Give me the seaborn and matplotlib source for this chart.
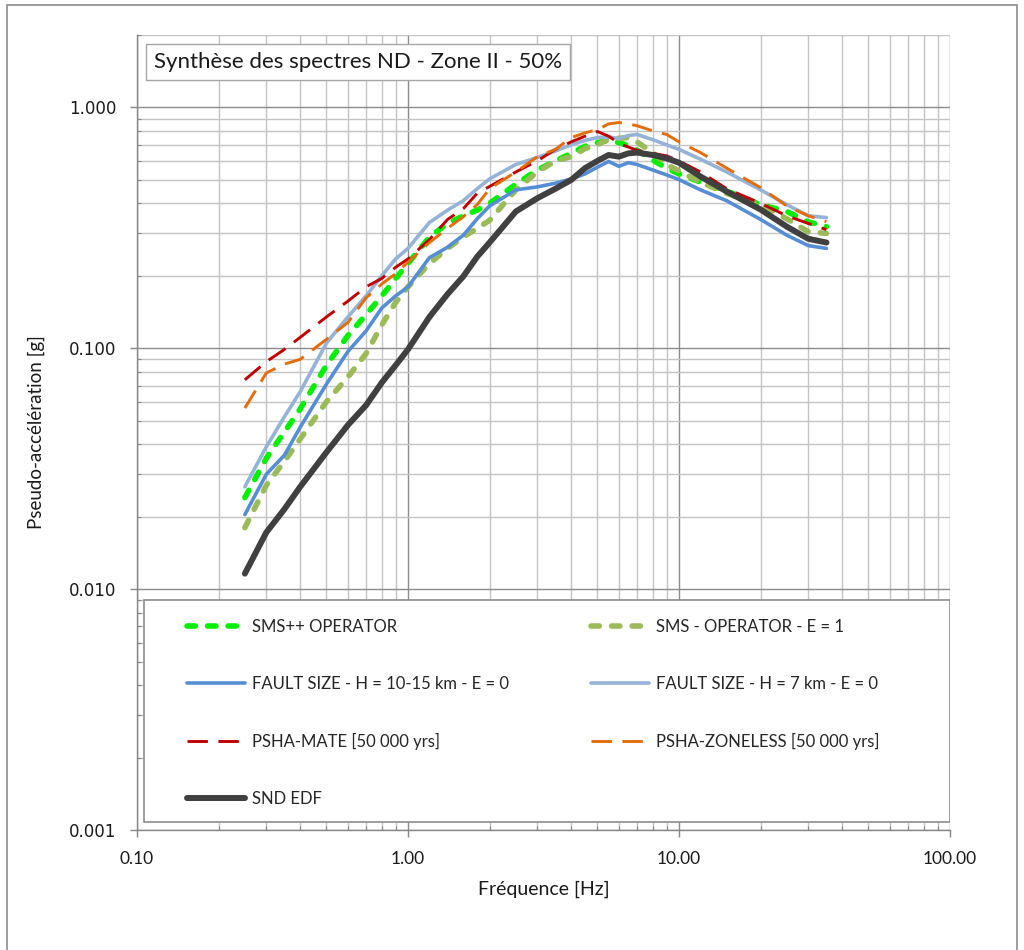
import numpy as np
import matplotlib
matplotlib.use("Agg")
import matplotlib.pyplot as plt
import seaborn as sns
from matplotlib.ticker import LogLocator, FormatStrFormatter, NullFormatter
from matplotlib.patches import Rectangle
from matplotlib.lines import Line2D

# Frequencies [Hz]
freq = [0.25, 0.3, 0.35, 0.4, 0.5, 0.6, 0.7, 0.8, 0.9, 1.0, 1.2, 1.4, 1.6, 1.8,
        2.0, 2.5, 3.0, 3.5, 4.0, 4.5, 5.0, 5.5, 6.0, 6.5, 7.0, 8.0, 9.0, 10,
        12, 15, 20, 25, 30, 35]

# Pseudo-acceleration spectra [g]
sms_pp_operator = [0.024, 0.035, 0.045, 0.056, 0.085, 0.113, 0.138, 0.165, 0.195, 0.225,
                   0.29, 0.33, 0.355, 0.375, 0.40, 0.48, 0.55, 0.60, 0.645, 0.69,
                   0.715, 0.73, 0.715, 0.695, 0.665, 0.605, 0.56, 0.53, 0.49, 0.45,
                   0.395, 0.37, 0.335, 0.32]
sms_operator_e1 = [0.018, 0.027, 0.034, 0.042, 0.060, 0.076, 0.095, 0.125, 0.155, 0.18,
                   0.225, 0.26, 0.29, 0.315, 0.34, 0.455, 0.54, 0.60, 0.625, 0.675,
                   0.70, 0.74, 0.745, 0.75, 0.72, 0.65, 0.58, 0.545, 0.49, 0.44,
                   0.395, 0.345, 0.305, 0.30]
fault_h10_15 = [0.0204, 0.030, 0.036, 0.047, 0.071, 0.097, 0.118, 0.147, 0.165, 0.18,
                0.238, 0.263, 0.295, 0.345, 0.39, 0.455, 0.468, 0.485, 0.505, 0.53,
                0.565, 0.597, 0.57, 0.59, 0.58, 0.55, 0.525, 0.502, 0.455, 0.41,
                0.343, 0.295, 0.267, 0.26]
fault_h7 = [0.0266, 0.039, 0.052, 0.066, 0.105, 0.135, 0.165, 0.20, 0.235, 0.26,
            0.333, 0.375, 0.41, 0.46, 0.505, 0.58, 0.62, 0.66, 0.70, 0.73,
            0.75, 0.755, 0.743, 0.765, 0.773, 0.735, 0.70, 0.67, 0.61, 0.54,
            0.455, 0.395, 0.355, 0.349]
psha_mate = [0.074, 0.088, 0.099, 0.111, 0.135, 0.157, 0.18, 0.195, 0.217, 0.235,
             0.283, 0.343, 0.38, 0.44, 0.47, 0.54, 0.60, 0.67, 0.72, 0.76,
             0.795, 0.76, 0.71, 0.685, 0.665, 0.645, 0.63, 0.60, 0.54, 0.46,
             0.40, 0.355, 0.33, 0.311]
psha_zoneless = [0.0565, 0.079, 0.086, 0.090, 0.109, 0.128, 0.162, 0.185, 0.204, 0.228,
                 0.275, 0.315, 0.352, 0.395, 0.46, 0.54, 0.625, 0.67, 0.75, 0.785,
                 0.81, 0.855, 0.866, 0.855, 0.84, 0.80, 0.773, 0.72, 0.65, 0.56,
                 0.465, 0.39, 0.355, 0.336]
snd_edf = [0.0116, 0.0172, 0.0215, 0.0266, 0.037, 0.048, 0.058, 0.072, 0.085, 0.099,
           0.135, 0.168, 0.199, 0.24, 0.275, 0.37, 0.42, 0.46, 0.50, 0.56,
           0.60, 0.635, 0.625, 0.645, 0.65, 0.635, 0.615, 0.59, 0.517, 0.448,
           0.377, 0.32, 0.285, 0.275]

labels = ["SMS++ OPERATOR", "SMS - OPERATOR - E = 1",
          "FAULT SIZE - H = 10-15 km - E = 0", "FAULT SIZE - H = 7 km - E = 0",
          "PSHA-MATE [50 000 yrs]", "PSHA-ZONELESS [50 000 yrs]", "SND EDF"]
values = [sms_pp_operator, sms_operator_e1, fault_h10_15, fault_h7,
          psha_mate, psha_zoneless, snd_edf]
colors = ["#00F000", "#9BBB59", "#558ED5", "#95B3D7", "#C00000", "#E46C0A", "#404040"]
widths = [4.0, 4.0, 2.6, 2.6, 2.1, 2.1, 4.3]
dashes = [(1.5, 2.2), (1.5, 2.2), None, None, (7, 3.6), (7, 3.6), None]

title = "Synthèse des spectres ND - Zone II - 50%"
xlabel = "Fréquence [Hz]"
ylabel = "Pseudo-accélération [g]"

sns.set_theme(style="white")
plt.rcParams["font.family"] = ["Lato", "DejaVu Sans"]

W, H = 1024, 950
fig = plt.figure(figsize=(W / 100, H / 100), dpi=100)
x0, x1, y0, y1 = 137, 950, 35, 830
ax = fig.add_axes([x0 / W, 1 - y1 / H, (x1 - x0) / W, (y1 - y0) / H])

handles = []
for lab, vals, col, lw, ds in zip(labels, values, colors, widths, dashes):
    kws = dict(color=col, linewidth=lw, solid_capstyle="round", solid_joinstyle="round")
    if ds is not None:
        kws.update(dashes=ds, dash_capstyle="round" if lw > 3 else "butt")
    sns.lineplot(x=freq, y=vals, ax=ax, label=lab, **kws)
    h = Line2D([], [], color=col, linewidth=lw, solid_capstyle="round",
               dash_capstyle="round" if lw > 3 else "butt")
    if ds is not None:
        h.set_dashes(ds)
    handles.append(h)

ax.set_xscale("log")
ax.set_yscale("log")
ax.set_xlim(0.1, 100)
ax.set_ylim(0.001, 2.0)

ax.xaxis.set_major_locator(LogLocator(base=10, numticks=10))
ax.yaxis.set_major_locator(LogLocator(base=10, numticks=10))
ax.xaxis.set_minor_locator(LogLocator(base=10, subs=np.arange(2, 10), numticks=20))
ax.yaxis.set_minor_locator(LogLocator(base=10, subs=np.arange(2, 10), numticks=20))
ax.xaxis.set_major_formatter(FormatStrFormatter("%.2f"))
ax.yaxis.set_major_formatter(FormatStrFormatter("%.3f"))
ax.xaxis.set_minor_formatter(NullFormatter())
ax.yaxis.set_minor_formatter(NullFormatter())

ax.set_axisbelow(True)
ax.grid(which="major", color="#8C8C8C", linewidth=1.0)
ax.grid(which="minor", color="#C4C4C4", linewidth=1.0)

for s in ["top", "right"]:
    ax.spines[s].set_visible(False)
for s in ["left", "bottom"]:
    ax.spines[s].set_color("#868686")
    ax.spines[s].set_linewidth(1.0)

ax.tick_params(which="major", bottom=True, left=True, direction="out", length=5,
               width=1, color="#868686", pad=10)
ax.tick_params(which="minor", bottom=True, left=True, direction="in", length=3,
               width=0.8, color="#868686")
for t in ax.get_yticklabels():
    t.set_fontfamily("DejaVu Sans")
    t.set_fontsize(12)
    t.set_color("#1A1A1A")
for t in ax.get_xticklabels():
    t.set_fontsize(12.5)
    t.set_color("#1A1A1A")

ax.set_xlabel(xlabel, fontsize=14, color="#1A1A1A", labelpad=10)
ax.set_ylabel(ylabel, fontsize=13.5, color="#1A1A1A", labelpad=17)

# Title inside the plot area
fig.text(154 / W, 1 - 62 / H, title, fontsize=16, color="#1A1A1A", va="center", ha="left",
         bbox=dict(boxstyle="square,pad=0.35", fc="white", ec="#A6A6A6", lw=1))

# Legend: boxed, two columns, row-wise order
aw, ah = x1 - x0, y1 - y0
ax.add_patch(Rectangle(((144 - x0) / aw, (y1 - 822) / ah), (950 - 144) / aw, (822 - 600) / ah,
                       transform=ax.transAxes, fc="white", ec="#8C8C8C", lw=1.2, zorder=5))
leg_kw = dict(loc="upper left", frameon=False, fontsize=12, handlelength=3.5,
              handletextpad=0.4, labelspacing=2.45, borderpad=0, borderaxespad=0)
leg1 = ax.legend([handles[i] for i in (0, 2, 4, 6)], [labels[i] for i in (0, 2, 4, 6)],
                 bbox_to_anchor=((187 - x0) / aw, (y1 - 619) / ah), **leg_kw)
leg1.set_zorder(6)
ax.add_artist(leg1)
leg2 = ax.legend([handles[i] for i in (1, 3, 5)], [labels[i] for i in (1, 3, 5)],
                 bbox_to_anchor=((591 - x0) / aw, (y1 - 619) / ah), **leg_kw)
leg2.set_zorder(6)

# Outer chart border
fig.patches.append(Rectangle((7 / W, -0.01), (1017 - 7) / W, 1 - 5 / H + 0.01,
                             transform=fig.transFigure, fill=False, ec="#8C8C8C", lw=1.2))

fig.savefig("out.png", dpi=100, facecolor="white")
